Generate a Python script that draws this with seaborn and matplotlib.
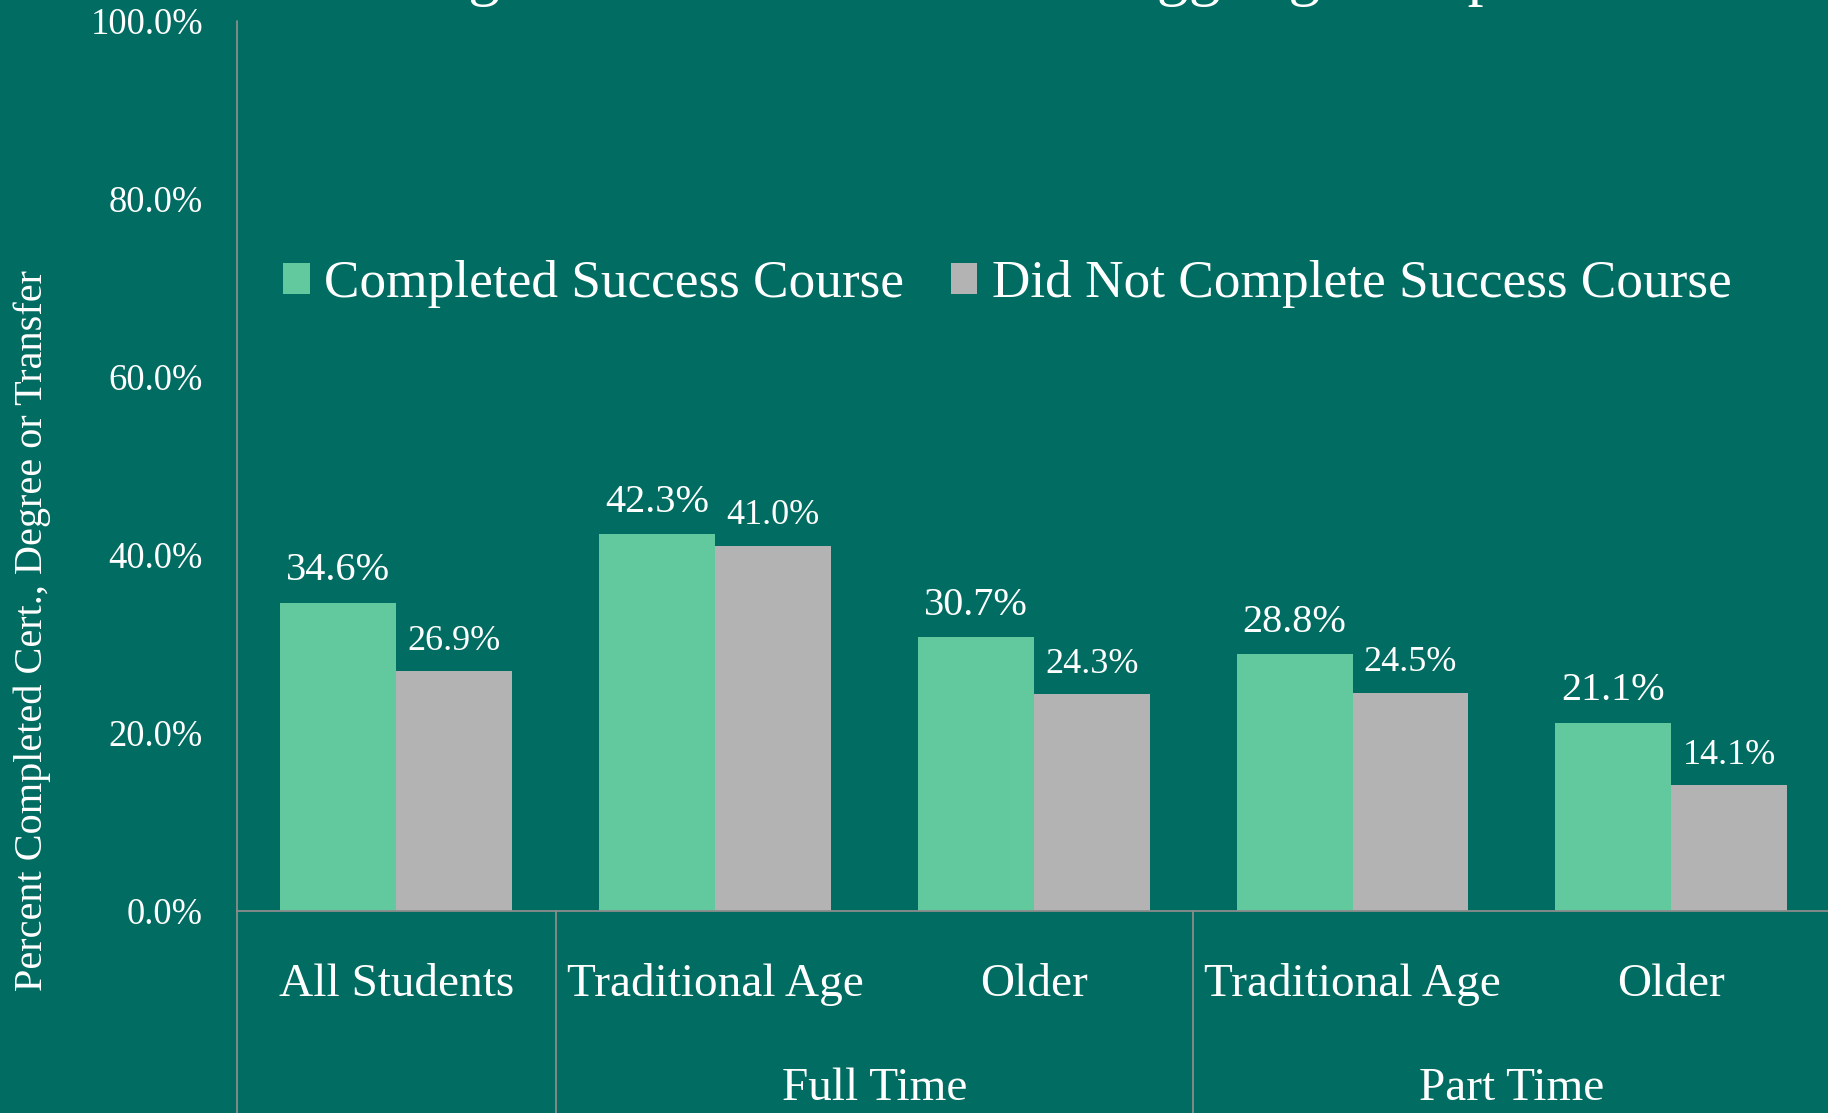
import pandas as pd
import seaborn as sns
import matplotlib.pyplot as plt
from matplotlib.ticker import FuncFormatter

# values
groups = ["All Students", "Traditional Age", "Older", "Traditional Age", "Older"]
group_keys = ["all", "ft_trad", "ft_old", "pt_trad", "pt_old"]
supergroups = ["Full Time", "Part Time"]
series = ["Completed Success Course", "Did Not Complete Success Course"]
completed = [34.6, 42.3, 30.7, 28.8, 21.1]
not_completed = [26.9, 41.0, 24.3, 24.5, 14.1]
title = "Outcomes Among Students in Selected Struggling Groups"

bg = "#006C62"
green = "#61C99D"
grey = "#B3B3B3"
line_col = "#8C8C8C"

df = pd.DataFrame({
    "group": group_keys * 2,
    "series": [series[0]] * 5 + [series[1]] * 5,
    "value": completed + not_completed,
})

sns.set_style("white")
plt.rcParams['font.family'] = ['Liberation Serif', 'DejaVu Serif']
plt.rcParams['text.color'] = 'white'

fig = plt.figure(figsize=(18.28, 11.13), dpi=100, facecolor=bg)
ax = fig.add_axes([0.1296, 0.1819, 0.8719, 0.7992])
ax.set_facecolor(bg)

sns.barplot(data=df, x="group", y="value", hue="series", order=group_keys,
            hue_order=series, palette=[green, grey], width=0.727,
            saturation=1, edgecolor="none", ax=ax)

ax.set_ylim(0, 100)
ax.set_xlim(-0.5, 4.5)
ax.set_yticks(range(0, 101, 20))
ax.yaxis.set_major_formatter(FuncFormatter(lambda v, p: f"{v:.1f}%"))
ax.tick_params(axis='y', length=0, pad=24.5, labelsize=26.3, labelcolor='white')
ax.tick_params(axis='x', length=0, pad=53.5, labelsize=34, labelcolor='white')
ax.set_xticks(range(5))
ax.set_xticklabels(groups)
for t in ax.get_xticklabels():
    t.set_verticalalignment('center')

ax.set_xlabel("")
ax.set_ylabel("Percent Completed Cert., Degree or Transfer", fontsize=29, color='white')
ax.yaxis.label.set_verticalalignment('center')
ax.yaxis.set_label_coords(-0.1283, 0.315)

for s in ["top", "right", "left"]:
    ax.spines[s].set_visible(False)
ax.spines["bottom"].set_color(line_col)
ax.spines["bottom"].set_linewidth(1.3)

# bar value labels
for cont, size, off in zip(ax.containers, [29, 26], [23, 21.5]):
    for bar in cont:
        h = bar.get_height()
        ax.annotate(f"{h:.1f}%", (bar.get_x() + bar.get_width() / 2, h),
                    xytext=(0, off), textcoords="offset points",
                    ha="center", va="center", fontsize=size, color="white")

# category dividers
xt = ax.get_xaxis_transform()
ax.plot([-0.5, -0.5], [-0.25, 1], transform=xt, color=line_col, lw=1.3, clip_on=False)
for xd in [0.5, 2.5]:
    ax.plot([xd, xd], [-0.25, 0], transform=xt, color=line_col, lw=1.3, clip_on=False)
for xs, lab in zip([1.5, 3.5], supergroups):
    ax.text(xs, -0.2003, lab, transform=xt, ha="center", va="center",
            fontsize=34, color="white")

h, l = ax.get_legend_handles_labels()
ax.legend(h, l, loc="center left", bbox_to_anchor=(283 / 1828, 1 - 284.5 / 1113),
          bbox_transform=fig.transFigure, ncol=2, frameon=False, fontsize=38.3,
          handlelength=0.5, handleheight=0.5, handletextpad=0.27,
          columnspacing=0.88, borderpad=0, borderaxespad=0, labelcolor="white")

# title sits mostly above the visible area
fig.text(37 / 1828, 1 + 7 / 1113, title, ha="left", va="baseline",
         fontsize=46, color="white")

fig.savefig("out.png", dpi=100, facecolor=bg)
